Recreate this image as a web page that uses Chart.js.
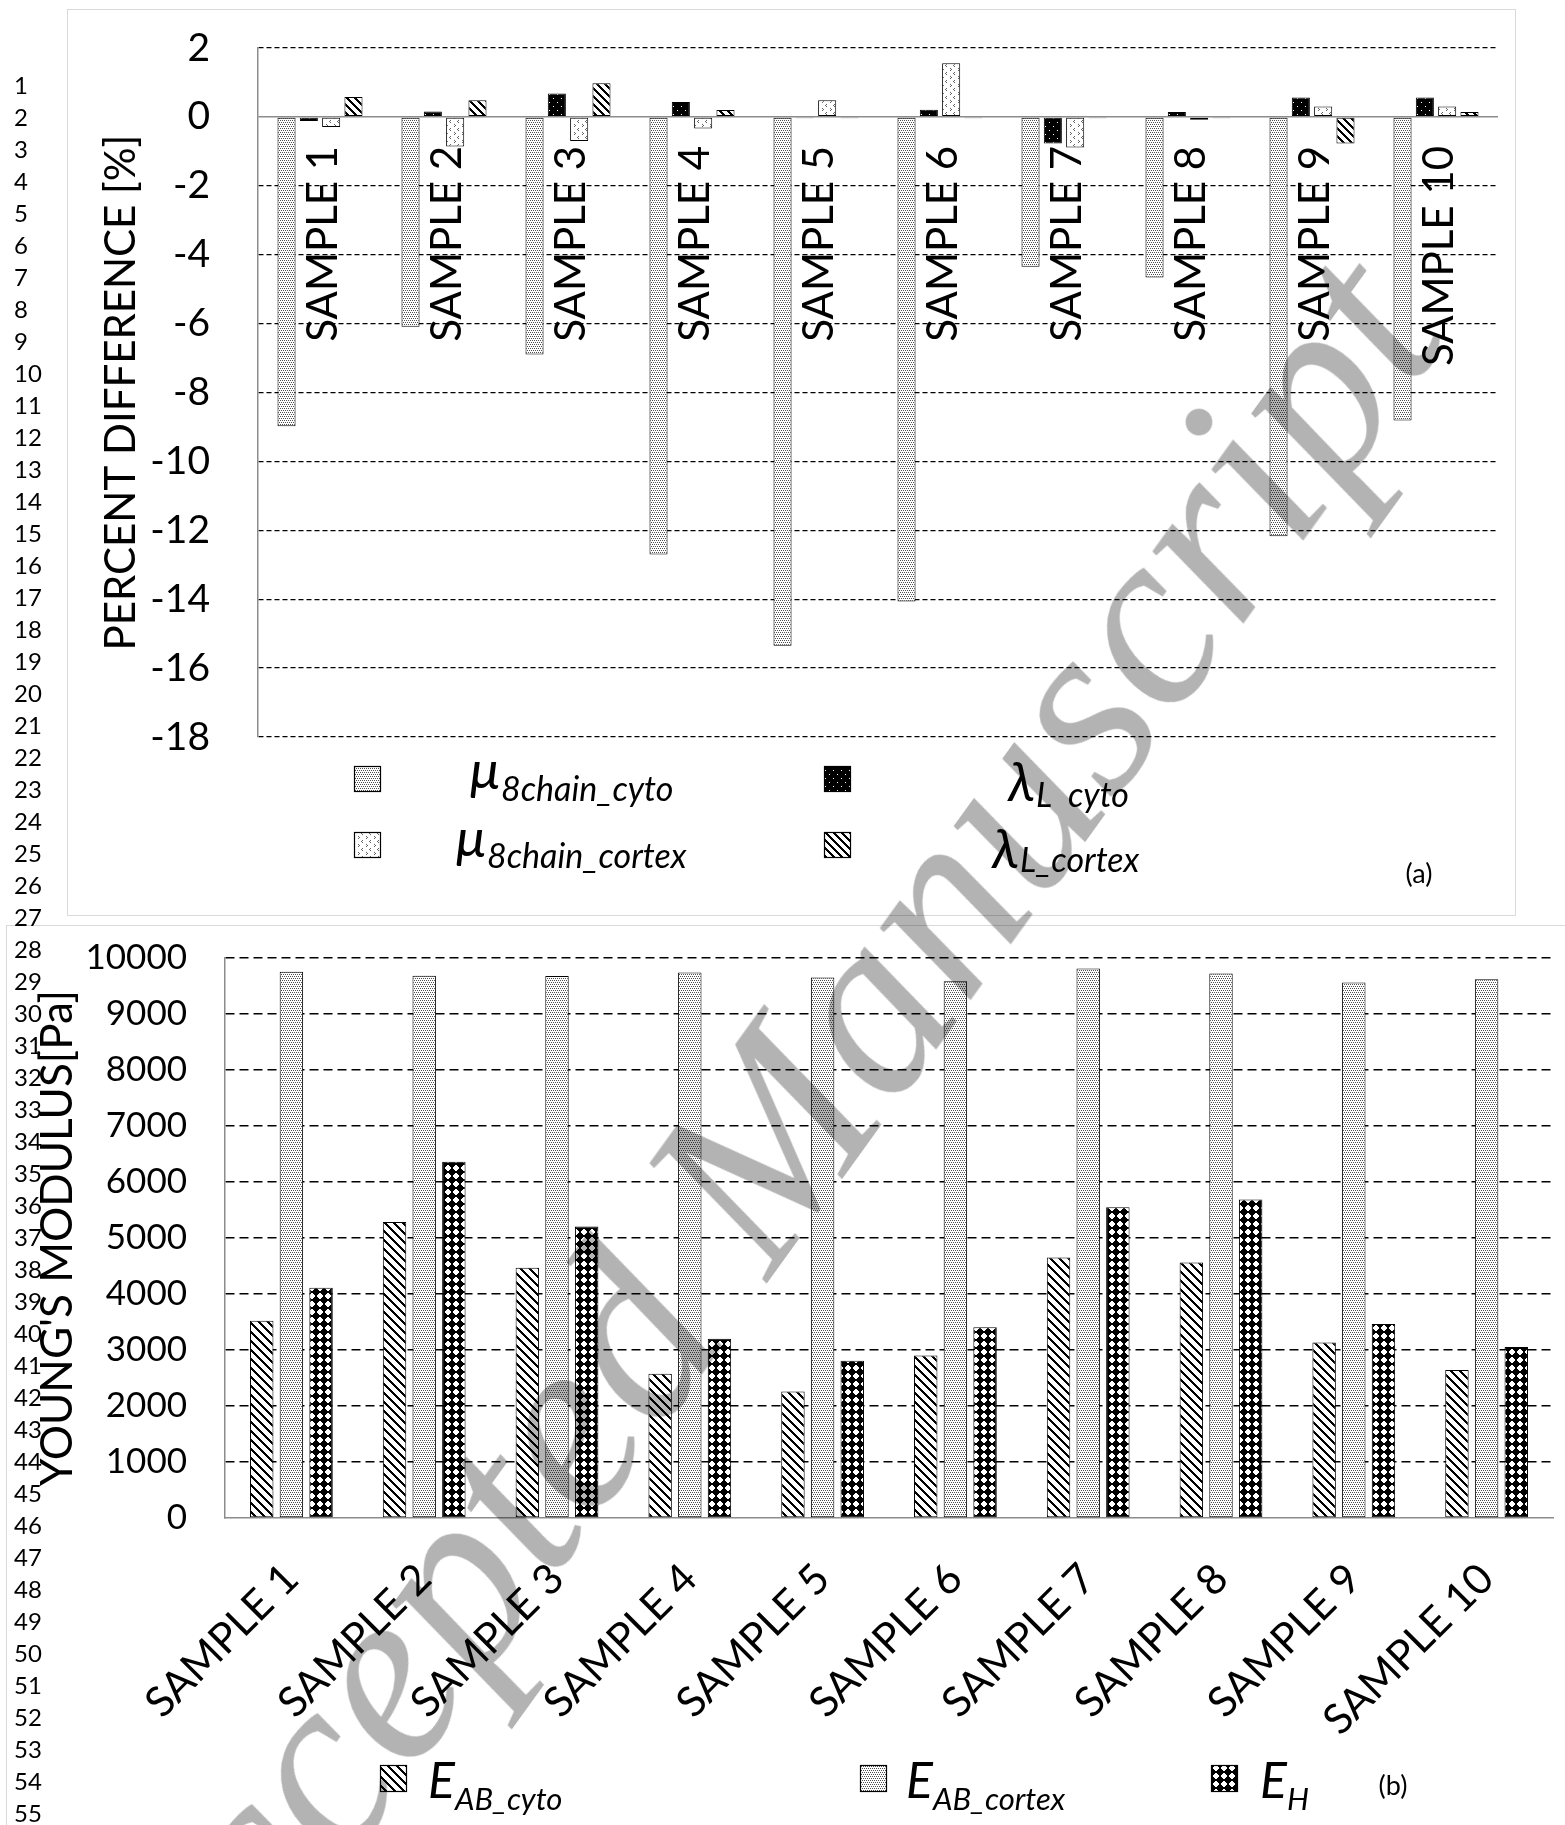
<!DOCTYPE html>
<html>
<head>
<meta charset="utf-8">
<script src="https://cdn.jsdelivr.net/npm/chart.js@4.4.1/dist/chart.umd.min.js"></script>
<style>
html,body{margin:0;padding:0;background:#fff;overflow:hidden;width:1565px;height:1825px;position:relative;}
#topPanel{position:absolute;left:67px;top:9px;width:1449px;height:907px;border:1.5px solid #d9d9d9;box-sizing:border-box;}
#botPanel{position:absolute;left:6px;top:925px;width:1700px;height:1000px;border:1.5px solid #d9d9d9;box-sizing:border-box;}
#c1wrap{position:absolute;left:0;top:0;width:1565px;height:920px;}
#c2wrap{position:absolute;left:0;top:920px;width:1565px;height:905px;}
.ln{position:absolute;left:14px;font-family:Lato,"Noto Sans",sans-serif;font-size:24px;line-height:32px;height:32px;color:#000;}
#wm{position:absolute;left:18px;top:1961px;transform-origin:0 0;transform:rotate(-54.2deg);
    font-family:"Liberation Serif",serif;font-style:italic;font-size:253px;line-height:1;color:#b3b3b3;
    white-space:nowrap;mix-blend-mode:multiply;pointer-events:none;}
</style>
</head>
<body>
<div id="topPanel"></div>
<div id="botPanel"></div>
<div id="c1wrap"><canvas id="c1"></canvas></div>
<div id="c2wrap"><canvas id="c2"></canvas></div>
<div id="lines"></div>
<div id="wm">Accepted Manuscript</div>
<script>
// ---------- DATA ----------
const categories = ['SAMPLE 1','SAMPLE 2','SAMPLE 3','SAMPLE 4','SAMPLE 5','SAMPLE 6','SAMPLE 7','SAMPLE 8','SAMPLE 9','SAMPLE 10'];

// (a) percent difference [%]
const mu8chainCyto   = [-8.98, -6.09, -6.90, -12.70, -15.35, -14.07, -4.35, -4.66, -12.17, -8.81];
const lambdaLCyto    = [-0.12,  0.16,  0.68,   0.43,  -0.04,   0.21, -0.77,  0.14,   0.56,  0.56];
const mu8chainCortex = [-0.29, -0.86, -0.70,  -0.34,   0.48,   1.56, -0.89, -0.08,   0.30,  0.30];
const lambdaLCortex  = [ 0.58,  0.48,  0.98,   0.20,  -0.04,  -0.04, -0.04, -0.04,  -0.77,  0.14];
const percentAxis = {min: -18, max: 2, step: 2};

// (b) Young's modulus [Pa]
const eABCyto   = [3523, 5286, 4467, 2576, 2258, 2903, 4651, 4561, 3132, 2644];
const eABCortex = [9756, 9684, 9680, 9739, 9652, 9584, 9814, 9725, 9562, 9621];
const eH        = [4113, 6363, 5206, 3200, 2807, 3407, 5548, 5689, 3466, 3052];
const modulusAxis = {min: 0, max: 10000, step: 1000};

const lineNumbers = Array.from({length: 55}, (_, i) => String(i + 1));

// ---------- line numbers ----------
const lnBox = document.getElementById('lines');
lineNumbers.forEach((t, i) => {
  const d = document.createElement('div');
  d.className = 'ln';
  d.style.top = (85 + i * 32 - 16) + 'px';
  d.textContent = t;
  lnBox.appendChild(d);
});

// ---------- patterns ----------
function makePattern(size, bg, fn) {
  const c = document.createElement('canvas');
  c.width = size; c.height = size;
  const g = c.getContext('2d');
  g.fillStyle = bg; g.fillRect(0, 0, size, size);
  const img = g.getImageData(0, 0, size, size);
  for (let y = 0; y < size; y++) for (let x = 0; x < size; x++) {
    const col = fn(x, y);
    if (col) { const i = (y * size + x) * 4; img.data[i] = col[0]; img.data[i+1] = col[1]; img.data[i+2] = col[2]; img.data[i+3] = 255; }
  }
  g.putImageData(img, 0, 0);
  return g.createPattern(c, 'repeat');
}
const patStipple = makePattern(4, '#ffffff', (x, y) => (y % 2 === 0 && ((x + y / 2) % 2 === 0)) ? [80, 80, 80] : null);
const patBlackDots = makePattern(8, '#000000', (x, y) => ((x === 1 && y === 2) || (x === 5 && y === 6)) ? [255, 255, 255] : null);
const patMarks = makePattern(8, '#ffffff', (x, y) => {
  const m = [[2,0],[1,1],[2,2],[6,4],[7,5],[6,6]];
  return m.some(p => p[0] === x && p[1] === y) ? [100, 100, 100] : null;
});
const patHatchThick = makePattern(8, '#ffffff', (x, y) => (((x - y) % 8 + 8) % 8) < 3 ? [0, 0, 0] : null);
const patHatchThin = makePattern(9, '#ffffff', (x, y) => (((x - y) % 9 + 9) % 9) < 3 ? [0, 0, 0] : null);
const patDiamond = makePattern(8, '#ffffff', (x, y) => (Math.abs(x - 3.5) + Math.abs(y - 3.5) <= 4) ? [0, 0, 0] : null);

const FONT = 'Lato, "Noto Sans", sans-serif';

function drawSwatch(ctx, x, y, w, h, fill) {
  ctx.save();
  ctx.fillStyle = fill; ctx.fillRect(x, y, w, h);
  ctx.strokeStyle = '#000'; ctx.lineWidth = 1.2; ctx.strokeRect(x + 0.5, y + 0.5, w - 1, h - 1);
  ctx.restore();
}
function drawSubText(ctx, x, main, mainFont, mainBase, sub, subFont, subBase, gap) {
  ctx.save();
  ctx.fillStyle = '#000'; ctx.textAlign = 'left'; ctx.textBaseline = 'alphabetic';
  ctx.font = mainFont; ctx.fillText(main, x, mainBase);
  const w = ctx.measureText(main).width;
  ctx.font = subFont; ctx.fillText(sub, x + w + gap, subBase);
  ctx.restore();
}

// ---------- chart (a) ----------
const topDecor = {
  id: 'topDecor',
  afterDatasetsDraw(chart) {
    const {ctx, scales: {x, y}} = chart;
    const y0 = y.getPixelForValue(0);
    ctx.save();
    ctx.font = '42px ' + FONT; ctx.fillStyle = '#000';
    ctx.textAlign = 'right'; ctx.textBaseline = 'middle';
    chart.data.labels.forEach((lab, i) => {
      const cx = x.getPixelForValue(i);
      ctx.save(); ctx.translate(cx + 3, y0 + 29); ctx.rotate(-Math.PI / 2); ctx.fillText(lab, 0, 0); ctx.restore();
    });
    ctx.restore();
  },
  afterDraw(chart) {
    const {ctx} = chart;
    const ds = chart.data.datasets;
    drawSwatch(ctx, 354, 766, 27, 26, ds[0].backgroundColor);
    drawSwatch(ctx, 354, 832, 27, 26, ds[2].backgroundColor);
    drawSwatch(ctx, 824, 766, 27, 26, ds[1].backgroundColor);
    drawSwatch(ctx, 824, 832, 27, 26, ds[3].backgroundColor);
    const mF = 'italic 54px ' + FONT, sF = 'italic 34px ' + FONT, lF = 'italic 54px ' + FONT;
    drawSubText(ctx, 470, '\u03BC', mF, 789, '8chain_cyto', sF, 801, 1);
    drawSubText(ctx, 456, '\u03BC', mF, 857, '8chain_cortex', sF, 868, 1);
    drawSubText(ctx, 1008, '\u03BB', lF, 801, 'L  cyto', sF, 807, 1);
    drawSubText(ctx, 992, '\u03BB', lF, 868, 'L_cortex', sF, 872, 1);
    ctx.save();
    ctx.font = '27px ' + FONT; ctx.fillStyle = '#000'; ctx.textAlign = 'center'; ctx.textBaseline = 'middle';
    ctx.fillText('(a)', 1419, 874);
    ctx.restore();
  }
};

const barStyle = {borderColor: '#000', borderWidth: 1, borderSkipped: false};

new Chart(document.getElementById('c1'), {
  type: 'bar',
  data: {
    labels: categories,
    datasets: [
      Object.assign({label: '\u03BC8chain_cyto', data: mu8chainCyto, backgroundColor: patStipple}, barStyle),
      Object.assign({label: '\u03BBL_cyto', data: lambdaLCyto, backgroundColor: patBlackDots}, barStyle),
      Object.assign({label: '\u03BC8chain_cortex', data: mu8chainCortex, backgroundColor: patMarks}, barStyle),
      Object.assign({label: '\u03BBL_cortex', data: lambdaLCortex, backgroundColor: patHatchThick}, barStyle)
    ]
  },
  options: {
    responsive: true, maintainAspectRatio: false, animation: false, devicePixelRatio: 1,
    layout: {padding: {left: 80, right: 67, top: 48, bottom: 183}},
    plugins: {legend: {display: false}, tooltip: {enabled: false}},
    datasets: {bar: {categoryPercentage: 0.72, barPercentage: 0.81}},
    scales: {
      x: {display: false, grid: {display: false}},
      y: {
        min: percentAxis.min, max: percentAxis.max,
        afterFit(s) { s.width = 178; },
        ticks: {stepSize: percentAxis.step, callback: v => String(v), font: {family: FONT, size: 39}, color: '#000', padding: 0},
        grid: {drawTicks: true, tickLength: 48, tickColor: 'rgba(0,0,0,0)',
               color: c => (c.tick && c.tick.value === 0) ? '#8c8c8c' : '#000',
               lineWidth: c => (c.tick && c.tick.value === 0) ? 1.6 : 1.3},
        border: {display: true, color: '#8c8c8c', width: 1.5,
                 dash: c => (c.tick && c.tick.value === 0) ? [] : [5, 3]},
        title: {display: true, text: 'PERCENT DIFFERENCE [%]', font: {family: FONT, size: 42}, color: '#000', padding: {top: 16, bottom: 0}}
      }
    }
  },
  plugins: [topDecor]
});

// ---------- chart (b) ----------
const botDecor = {
  id: 'botDecor',
  afterDraw(chart) {
    const {ctx} = chart;
    const ds = chart.data.datasets;
    const oy = 920;
    drawSwatch(ctx, 380, 1765 - oy, 27, 27, ds[0].backgroundColor);
    drawSwatch(ctx, 860, 1765 - oy, 27, 27, ds[1].backgroundColor);
    drawSwatch(ctx, 1211, 1765 - oy, 27, 27, ds[2].backgroundColor);
    const mF = 'italic 50px ' + FONT, sF = 'italic 31px ' + FONT;
    drawSubText(ctx, 428, 'E', mF, 1798 - oy, 'AB_cyto', sF, 1810 - oy, 0);
    drawSubText(ctx, 906, 'E', mF, 1798 - oy, 'AB_cortex', sF, 1810 - oy, 0);
    drawSubText(ctx, 1260, 'E', mF, 1798 - oy, 'H', sF, 1810 - oy, 0);
    ctx.save();
    ctx.font = '27px ' + FONT; ctx.fillStyle = '#000'; ctx.textAlign = 'center'; ctx.textBaseline = 'middle';
    ctx.fillText('(b)', 1393, 1786 - oy);
    ctx.restore();
  }
};

new Chart(document.getElementById('c2'), {
  type: 'bar',
  data: {
    labels: categories,
    datasets: [
      Object.assign({label: 'E_AB_cyto', data: eABCyto, backgroundColor: patHatchThin}, barStyle),
      Object.assign({label: 'E_AB_cortex', data: eABCortex, backgroundColor: patStipple}, barStyle),
      Object.assign({label: 'E_H', data: eH, backgroundColor: patDiamond}, barStyle)
    ]
  },
  options: {
    responsive: true, maintainAspectRatio: false, animation: false, devicePixelRatio: 1,
    layout: {padding: {left: 20, right: 12, top: 38, bottom: 57}},
    plugins: {legend: {display: false}, tooltip: {enabled: false}},
    datasets: {bar: {categoryPercentage: 0.67, barPercentage: 0.79}},
    scales: {
      x: {
        afterFit(s) { s.height = 250; },
        grid: {display: false, drawTicks: false},
        border: {display: true, color: '#8c8c8c', width: 1.5},
        ticks: {autoSkip: false, maxRotation: 45, minRotation: 45, padding: 36, font: {family: FONT, size: 42}, color: '#000'}
      },
      y: {
        min: modulusAxis.min, max: modulusAxis.max,
        afterFit(s) { s.width = 205; },
        ticks: {stepSize: modulusAxis.step, callback: v => String(v), font: {family: FONT, size: 35}, color: '#000', padding: 0},
        grid: {drawTicks: true, tickLength: 38, tickColor: 'rgba(0,0,0,0)',
               color: c => (c.tick && c.tick.value === 0) ? 'rgba(0,0,0,0)' : '#000', lineWidth: 1.6},
        border: {display: true, color: '#8c8c8c', width: 1.5, dash: [9, 5]},
        title: {display: true, text: "YOUNG'S MODULUS[Pa]", font: {family: FONT, size: 44}, color: '#000', padding: {top: 11, bottom: 0}}
      }
    }
  },
  plugins: [botDecor]
});
</script>
</body>
</html>
